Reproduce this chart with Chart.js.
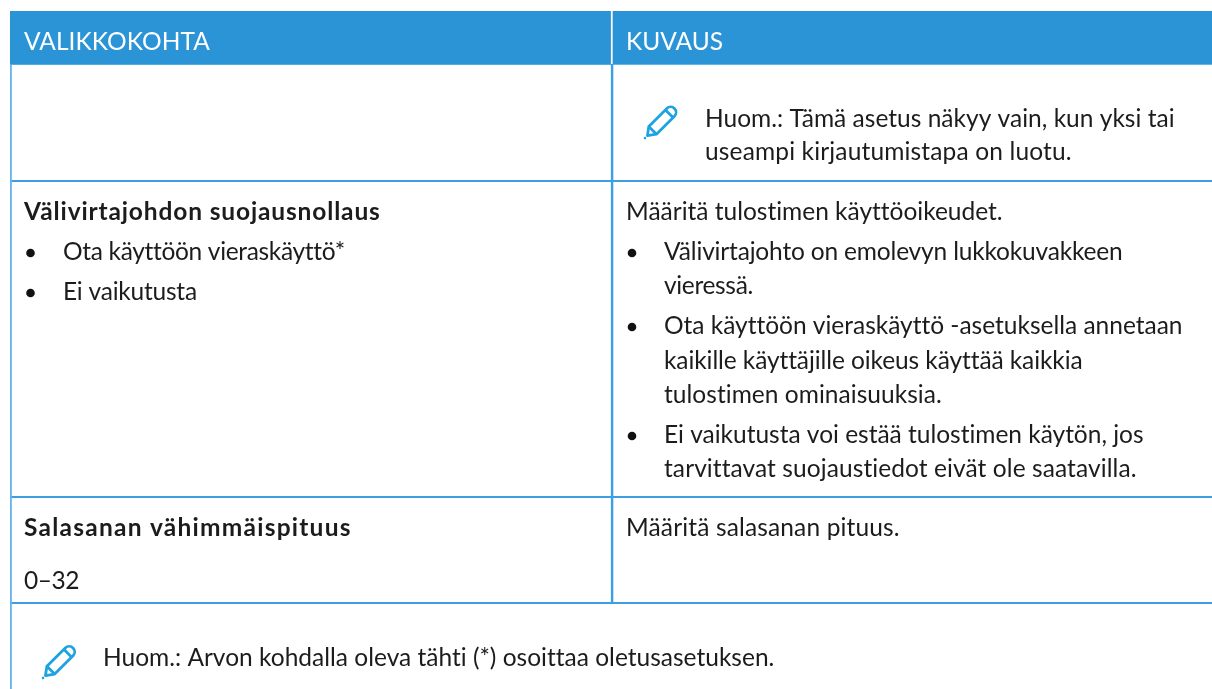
<!DOCTYPE html>
<html><head><meta charset="utf-8">
<style>html,body{margin:0;padding:0;background:#fff}canvas{display:block}</style>
<script src="https://cdn.jsdelivr.net/npm/chart.js@4"></script>
</head><body>
<div style="width:1212px;height:689px;position:relative"><canvas id="c"></canvas></div>
<script>
// --- table content ---
const columns = ['VALIKKOKOHTA', 'KUVAUS'];
const row1Right = ['Huom.: Tämä asetus näkyy vain, kun yksi tai', 'useampi kirjautumistapa on luotu.'];
const row2LeftTitle = 'Välivirtajohdon suojausnollaus';
const row2LeftItems = ['Ota käyttöön vieraskäyttö*', 'Ei vaikutusta'];
const row2RightIntro = 'Määritä tulostimen käyttöoikeudet.';
const row2RightItems = [
  ['Välivirtajohto on emolevyn lukkokuvakkeen', 'vieressä.'],
  ['Ota käyttöön vieraskäyttö -asetuksella annetaan', 'kaikille käyttäjille oikeus käyttää kaikkia', 'tulostimen ominaisuuksia.'],
  ['Ei vaikutusta voi estää tulostimen käytön, jos', 'tarvittavat suojaustiedot eivät ole saatavilla.']
];
const row3LeftTitle = 'Salasanan vähimmäispituus';
const row3LeftValue = '0–32';
const row3Right = 'Määritä salasanan pituus.';
const footNote = 'Huom.: Arvon kohdalla oleva tähti (*) osoittaa oletusasetuksen.';

// --- layout (y scale is in table pixels from the top of the header) ---
const TOP = 11, LEFT = 10;
const rowEdges = [0, 53, 170, 486, 592, 678];
const BLUE = '#2b94d7', LINE = '#3c9fe3', LIGHT = '#62b6ec', INK = '#1c1c1c', PEN = '#1ea3e0';
const FONT = 'Lato';
const SIZE = 24.5;

const pen = (ctx, x, y, s) => {
  ctx.save();
  ctx.translate(x, y); ctx.rotate(-Math.PI / 4); ctx.scale(s, s);
  ctx.strokeStyle = PEN; ctx.fillStyle = PEN; ctx.lineWidth = 2.8; ctx.lineJoin = 'round';
  ctx.beginPath(); ctx.arc(0, 0, 1.3, 0, 7); ctx.fill();
  ctx.beginPath();
  ctx.moveTo(3.5, 0); ctx.lineTo(11, -5.5); ctx.lineTo(37, -5.5);
  ctx.arc(37, 0, 5.5, -Math.PI / 2, Math.PI / 2);
  ctx.lineTo(11, 5.5); ctx.closePath(); ctx.stroke();
  ctx.beginPath(); ctx.moveTo(11, -5.5); ctx.lineTo(11, 5.5); ctx.moveTo(35, -5.5); ctx.lineTo(35, 5.5); ctx.stroke();
  ctx.restore();
};

const tablePlugin = {
  id: 'tableText',
  afterDatasetsDraw(chart) {
    const { ctx, scales: { x, y } } = chart;
    const colL = x.getPixelForValue(0) - x.width / 4, colR = x.getPixelForValue(1) - x.width / 4;
    const Y = v => y.getPixelForValue(v - TOP);
    const text = (s, px, py, width, o = {}) => {
      ctx.font = `${o.weight || 'normal'} ${SIZE}px ${FONT}, sans-serif`;
      ctx.fillStyle = o.color || INK; ctx.textBaseline = 'alphabetic'; ctx.textAlign = 'left';
      ctx.letterSpacing = '0.01px';
      const w = ctx.measureText(s).width;
      ctx.letterSpacing = ((width - w) / s.length).toFixed(3) + 'px';
      ctx.fillText(s, px, Y(py));
      ctx.letterSpacing = '0px';
    };
    const dot = (px, py) => { ctx.fillStyle = '#111'; ctx.beginPath(); ctx.arc(px, Y(py), 4.3, 0, 7); ctx.fill(); };
    ctx.save();
    const a = colL + 14, b = colR + 15, ia = colL + 53, ib = colR + 53;
    text(columns[0], a, 50, 186, { color: '#fff' });
    text(columns[1], b, 50, 97, { color: '#fff' });
    pen(ctx, colR + 34, Y(138), 0.98);
    text(row1Right[0], colR + 94, 127, 470);
    text(row1Right[1], colR + 94, 160, 367);
    text(row2LeftTitle, a, 220, 357, { weight: 'bold' });
    dot(colL + 20.5, 253); text(row2LeftItems[0], ia, 260, 282);
    dot(colL + 20.5, 293); text(row2LeftItems[1], ia, 300, 134);
    text(row2RightIntro, b, 220, 377);
    const ys = [[260, 294], [334, 369, 403], [443, 477]];
    const ws = [[459, 89], [519, 419, 278], [480, 473]];
    const dots = [253, 327, 436];
    row2RightItems.forEach((lines, i) => {
      dot(colR + 21, dots[i]);
      lines.forEach((l, j) => text(l, ib, ys[i][j], ws[i][j]));
    });
    text(row3LeftTitle, a, 536, 328, { weight: 'bold' });
    text(row3LeftValue, a, 589, 55);
    text(row3Right, b, 536, 274);
    pen(ctx, colL + 33, Y(678), 1.0);
    text(footNote, colL + 93, 666, 672);
    ctx.restore();
  }
};

new Chart(document.getElementById('c'), {
  type: 'bar',
  data: {
    labels: columns,
    datasets: [
      { label: 'header', data: [[rowEdges[0], rowEdges[1]], [rowEdges[0], rowEdges[1]]],
        backgroundColor: BLUE, borderColor: '#ffffff', borderSkipped: false,
        borderWidth: ctx => ({ left: ctx.dataIndex ? 2 : 0, top: 0, right: 0, bottom: 0 }) },
      { label: 'body', data: [[rowEdges[1], rowEdges[4]], [rowEdges[1], rowEdges[4]]],
        backgroundColor: 'transparent', borderSkipped: false,
        borderColor: ctx => ctx.dataIndex ? LINE : LIGHT,
        borderWidth: ctx => ({ left: ctx.dataIndex ? 2 : 1.5, top: 0, right: 0, bottom: 0 }) },
      { label: 'foot', data: [[rowEdges[4], rowEdges[5]], null],
        backgroundColor: 'transparent', borderSkipped: false, borderColor: LIGHT,
        borderWidth: { left: 1.5, top: 0, right: 0, bottom: 0 } }
    ]
  },
  options: {
    responsive: true, maintainAspectRatio: false, animation: false,
    layout: { padding: { left: LEFT, top: TOP, right: 0, bottom: 0 } },
    datasets: { bar: { grouped: false, barPercentage: 1, categoryPercentage: 1 } },
    plugins: { legend: { display: false }, tooltip: { enabled: false } },
    scales: {
      x: { display: false },
      y: { reverse: true, min: rowEdges[0], max: rowEdges[5],
        afterBuildTicks: ax => { ax.ticks = rowEdges.slice(1, 5).map(value => ({ value })); },
        ticks: { display: false }, border: { display: false },
        grid: { drawTicks: false, lineWidth: 2, color: c => c.tick && c.tick.value === rowEdges[1] ? LIGHT : LINE } }
    }
  },
  plugins: [tablePlugin]
});
</script>
</body></html>
